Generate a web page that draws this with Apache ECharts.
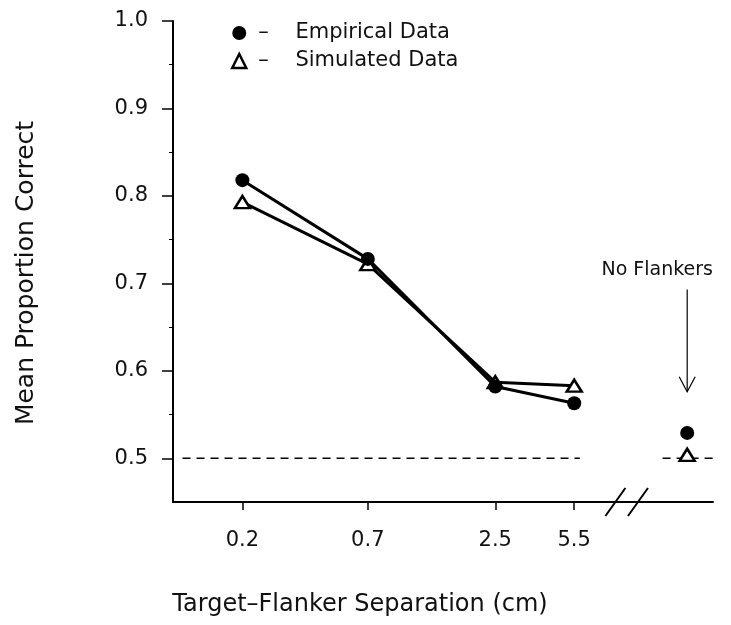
<!DOCTYPE html>
<html>
<head>
<meta charset="utf-8">
<script src="https://cdn.jsdelivr.net/npm/echarts@6/dist/echarts.min.js"></script>
<style>
  html, body { margin: 0; padding: 0; background: #fff; }
  #chart { width: 731px; height: 625px; }
</style>
</head>
<body>
<div id="chart"></div>
<script>
// target-flanker separations (cm), plotted on a log axis
const separations = [0.2, 0.7, 2.5, 5.5]
const empirical = [0.818, 0.728, 0.582, 0.563]
const simulated = [0.793, 0.722, 0.587, 0.583]
// "No Flankers" condition sits past the axis break
const noFlankerX = 17
const noFlankerEmpirical = [0.529]
const noFlankerSimulated = [0.504]
const chanceLevel = 0.5
const yTickValues = [0.5, 0.6, 0.7, 0.8, 0.9, 1.0]
const yMinorValues = [0.55, 0.65, 0.75, 0.85, 0.95]
const xTickValues = [0.2, 0.7, 2.5, 5.5]

const font = 'DejaVu Sans'
const ink = '#111'

const chart = echarts.init(document.getElementById('chart'))

const pair = (xs, ys) => xs.map((x, i) => [x, ys[i]])

const option = {
  animation: false,
  backgroundColor: '#fff',
  grid: { left: 173, right: 18, top: 21, bottom: 123 },
  legend: {
    orient: 'vertical',
    left: 231,
    top: 22,
    padding: 0,
    itemWidth: 14,
    itemHeight: 14,
    itemGap: 6,
    textStyle: { fontFamily: font, fontSize: 21, lineHeight: 22, color: ink, padding: [0, 0, 0, 7] },
    formatter: (name) => '–    ' + name,
    data: [
      { name: 'Empirical Data', icon: 'circle', itemStyle: { color: '#000' } },
      { name: 'Simulated Data', icon: 'triangle', itemStyle: { color: '#fff', borderColor: '#000', borderWidth: 2.5 } }
    ]
  },
  xAxis: [
    {
      type: 'log',
      logBase: 10,
      min: 0.1,
      max: 22,
      axisLine: { lineStyle: { color: '#000', width: 2 } },
      axisTick: { customValues: xTickValues, length: 8, lineStyle: { color: '#000', width: 1.5 } },
      axisLabel: {
        customValues: xTickValues,
        formatter: (v) => String(v),
        margin: 28,
        fontFamily: font,
        fontSize: 21,
        color: ink
      },
      splitLine: { show: false },
      minorTick: { show: false }
    }
  ],
  yAxis: [
    {
      type: 'value',
      min: 0.45,
      max: 1.0,
      axisLine: { show: true, lineStyle: { color: '#000', width: 2 } },
      axisTick: { customValues: yTickValues, length: 11, lineStyle: { color: '#000', width: 1.5 } },
      axisLabel: {
        customValues: yTickValues,
        formatter: (v) => v.toFixed(1),
        margin: 25,
        fontFamily: font,
        fontSize: 21,
        color: ink
      },
      splitLine: { show: false }
    },
    {
      // short minor ticks on the same scale
      type: 'value',
      min: 0.45,
      max: 1.0,
      position: 'left',
      axisLine: { show: false },
      axisTick: { show: true, customValues: yMinorValues, length: 4, lineStyle: { color: '#000', width: 1 } },
      axisLabel: { show: false },
      splitLine: { show: false }
    }
  ],
  series: [
    {
      name: 'chance',
      type: 'line',
      data: [[0.11, chanceLevel], [5.82, chanceLevel]],
      symbol: 'none',
      lineStyle: { color: '#000', width: 1.5, type: [8, 6] },
      z: 1,
      silent: true
    },
    {
      name: 'chance-right',
      type: 'line',
      data: [[13.3, chanceLevel], [22, chanceLevel]],
      symbol: 'none',
      lineStyle: { color: '#000', width: 1.5, type: [8, 6] },
      z: 1,
      silent: true
    },
    {
      name: 'Simulated Data',
      type: 'line',
      data: pair(separations, simulated),
      symbol: 'triangle',
      symbolSize: [15, 12],
      itemStyle: { color: '#fff', borderColor: '#000', borderWidth: 2.5 },
      lineStyle: { color: '#000', width: 3 },
      z: 2
    },
    {
      name: 'Simulated Data',
      type: 'scatter',
      data: noFlankerSimulated.map((v) => [noFlankerX, v]),
      symbol: 'triangle',
      symbolSize: [15, 12],
      itemStyle: { color: '#fff', borderColor: '#000', borderWidth: 2.5, opacity: 1 },
      z: 3
    },
    {
      name: 'Empirical Data',
      type: 'line',
      data: pair(separations, empirical),
      symbol: 'circle',
      symbolSize: 14,
      itemStyle: { color: '#000' },
      lineStyle: { color: '#000', width: 3 },
      z: 4
    },
    {
      name: 'Empirical Data',
      type: 'scatter',
      data: noFlankerEmpirical.map((v) => [noFlankerX, v]),
      symbol: 'circle',
      symbolSize: 14,
      itemStyle: { color: '#000', opacity: 1 },
      z: 4
    }
  ]
}

chart.setOption(option)

// decorations placed through the axis scales
const px = (x, y) => chart.convertToPixel({ gridIndex: 0 }, [x, y])
const axisY = px(1, 0.45)[1]
const slashes = [8.3, 10.4].map((xv) => {
  const c = px(xv, 0.45)
  return {
    type: 'line',
    shape: { x1: c[0] - 10, y1: c[1] + 14, x2: c[0] + 10, y2: c[1] - 14 },
    style: { stroke: '#000', lineWidth: 2 }
  }
})
const arrowTop = px(noFlankerX, 0.693)
const arrowTip = px(noFlankerX, 0.576)

chart.setOption({
  graphic: [
    ...slashes,
    {
      type: 'line',
      shape: { x1: arrowTop[0], y1: arrowTop[1], x2: arrowTip[0], y2: arrowTip[1] },
      style: { stroke: '#000', lineWidth: 1.2 }
    },
    {
      type: 'polyline',
      shape: { points: [[arrowTip[0] - 8, arrowTip[1] - 15], [arrowTip[0], arrowTip[1]], [arrowTip[0] + 8, arrowTip[1] - 15]] },
      style: { stroke: '#000', lineWidth: 1.2, fill: null }
    },
    {
      type: 'text',
      x: arrowTop[0] - 30,
      y: arrowTop[1] - 19,
      style: { text: 'No Flankers', fontFamily: font, fontSize: 19, fill: ink, align: 'center', verticalAlign: 'middle' }
    },
    {
      type: 'text',
      x: 360,
      y: axisY + 103,
      style: { text: 'Target–Flanker Separation (cm)', fontFamily: font, fontSize: 24, fill: ink, align: 'center', verticalAlign: 'middle' }
    },
    {
      type: 'text',
      x: 26,
      y: 273,
      rotation: Math.PI / 2,
      style: { text: 'Mean Proportion Correct', fontFamily: font, fontSize: 25, fill: ink, align: 'center', verticalAlign: 'middle' }
    }
  ]
})
</script>
</body>
</html>
